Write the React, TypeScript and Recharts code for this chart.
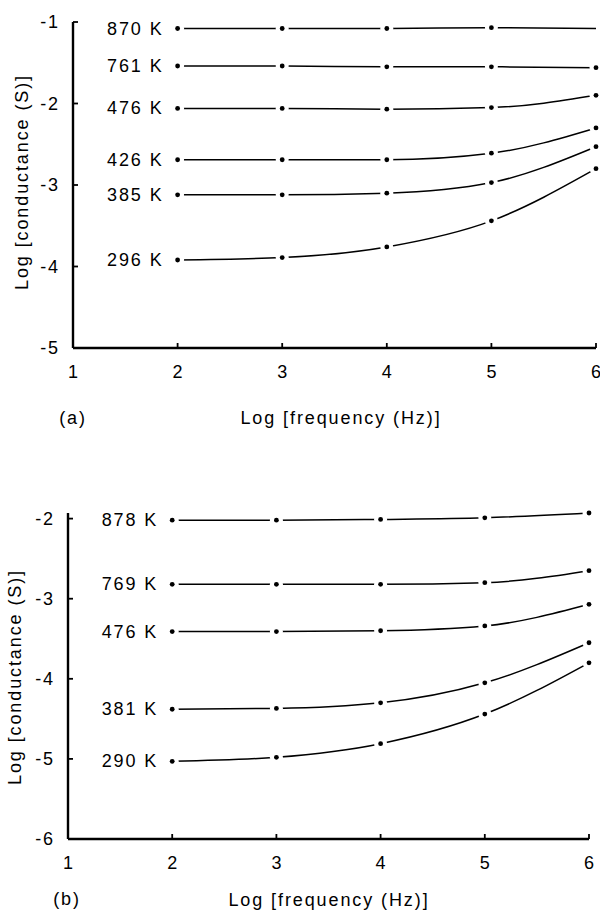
import { LineChart, Line, XAxis, YAxis, LabelList } from 'recharts';

// log frequency (Hz) at which each curve was measured
const FREQ = [2, 3, 4, 5, 6];

// panel (a)
const TEMPS_A = ['870 K', '761 K', '476 K', '426 K', '385 K', '296 K'];
const A_870 = [-1.08, -1.08, -1.08, -1.07, -1.08];
const A_761 = [-1.54, -1.54, -1.55, -1.55, -1.56];
const A_476 = [-2.06, -2.06, -2.07, -2.05, -1.9];
const A_426 = [-2.69, -2.69, -2.69, -2.61, -2.3];
const A_385 = [-3.12, -3.12, -3.1, -2.97, -2.53];
const A_296 = [-3.92, -3.89, -3.76, -3.44, -2.8];
const Y_TICKS_A = [-5, -4, -3, -2, -1];

// panel (b)
const TEMPS_B = ['878 K', '769 K', '476 K', '381 K', '290 K'];
const B_878 = [-2.02, -2.02, -2.01, -1.99, -1.93];
const B_769 = [-2.82, -2.82, -2.82, -2.8, -2.65];
const B_476 = [-3.41, -3.41, -3.4, -3.34, -3.07];
const B_381 = [-4.38, -4.37, -4.3, -4.05, -3.55];
const B_290 = [-5.03, -4.98, -4.81, -4.44, -3.8];
const Y_TICKS_B = [-6, -5, -4, -3, -2];

const X_TICKS = [1, 2, 3, 4, 5, 6];

const FONT = '"Liberation Sans", Arial, sans-serif';
const FS = 18;
const LS = 1.9;

function buildRows(series: number[][]) {
  return FREQ.map((f, i) => {
    const row: Record<string, number> = { f };
    series.forEach((s, k) => {
      row['s' + k] = s[i];
    });
    return row;
  });
}

const XTick = (props: any) => {
  const { x, y, payload } = props;
  return (
    <g>
      <line x1={x} y1={y} x2={x} y2={y - 5} stroke="#000" strokeWidth={1.8} />
      <text x={x} y={y + 30} textAnchor="middle" fontSize={FS} fontFamily={FONT} fill="#000">
        {payload.value}
      </text>
    </g>
  );
};

const YTick = (props: any) => {
  const { x, y, payload } = props;
  return (
    <g>
      <line x1={x} y1={y} x2={x + 5} y2={y} stroke="#000" strokeWidth={1.8} />
      <text x={x - 13} y={y + 6} textAnchor="end" fontSize={FS} fontFamily={FONT} letterSpacing={LS} fill="#000">
        {payload.value}
      </text>
    </g>
  );
};

function makeDot(hideLast: boolean) {
  return (props: any) => {
    const { cx, cy, index } = props;
    if (hideLast && index === FREQ.length - 1) return <g key={'d' + index} />;
    return (
      <g key={'d' + index}>
        <circle cx={cx} cy={cy} r={6.5} fill="#fff" />
        <circle cx={cx} cy={cy} r={2.4} fill="#000" />
      </g>
    );
  };
}

function nameLabel(name: string) {
  return (props: any) => {
    const { x, y, index } = props;
    if (index !== 0) return null;
    return (
      <text x={x - 14} y={y + 6} textAnchor="end" fontSize={FS} fontFamily={FONT} letterSpacing={LS} fill="#000">
        {name}
      </text>
    );
  };
}

interface PanelProps {
  series: number[][];
  names: string[];
  yTicks: number[];
  margin: { top: number; right: number; bottom: number; left: number };
  height: number;
  hideLast?: number;
}

function Panel({ series, names, yTicks, margin, height, hideLast }: PanelProps) {
  const rows = buildRows(series);
  return (
    <LineChart width={600} height={height} data={rows} margin={margin}>
      <XAxis
        dataKey="f"
        type="number"
        domain={[1, 6]}
        ticks={X_TICKS}
        tickSize={0}
        tickMargin={0}
        tickLine={false}
        axisLine={{ stroke: '#000', strokeWidth: 2.4 }}
        tick={<XTick />}
        height={30}
      />
      <YAxis
        type="number"
        domain={[yTicks[0], yTicks[yTicks.length - 1]]}
        ticks={yTicks}
        tickSize={0}
        tickMargin={0}
        tickLine={false}
        axisLine={{ stroke: '#000', strokeWidth: 2.4 }}
        tick={<YTick />}
        width={40}
      />
      {series.map((_, k) => (
        <Line
          key={k}
          dataKey={'s' + k}
          type="monotone"
          stroke="#000"
          strokeWidth={1.5}
          dot={makeDot(hideLast === k)}
          activeDot={false}
          isAnimationActive={false}
        >
          <LabelList dataKey={'s' + k} content={nameLabel(names[k])} />
        </Line>
      ))}
    </LineChart>
  );
}

const textStyle = {
  position: 'absolute' as const,
  fontFamily: FONT,
  fontSize: FS,
  letterSpacing: LS,
  whiteSpace: 'nowrap' as const,
  color: '#000',
  lineHeight: 1,
};

function Title({ x, y, text, rotate }: { x: number; y: number; text: string; rotate?: boolean }) {
  return (
    <div
      style={{
        ...textStyle,
        left: x,
        top: y,
        transform: `translate(-50%, -50%)${rotate ? ' rotate(-90deg)' : ''}`,
      }}
    >
      {text}
    </div>
  );
}

export default function App() {
  return (
    <div style={{ position: 'absolute', left: 0, top: 0, width: 600, height: 916, background: '#fff', overflow: 'hidden' }}>
      <div style={{ position: 'absolute', left: 0, top: 0 }}>
        <Panel
          series={[A_870, A_761, A_476, A_426, A_385, A_296]}
          names={TEMPS_A}
          yTicks={Y_TICKS_A}
          height={400}
          margin={{ top: 22, right: 4, bottom: 22, left: 33 }}
          hideLast={0}
        />
      </div>
      <Title x={22} y={182} text="Log [conductance (S)]" rotate />
      <Title x={341} y={418} text="Log [frequency (Hz)]" />
      <Title x={73} y={418} text="(a)" />

      <div style={{ position: 'absolute', left: 0, top: 470 }}>
        <Panel
          series={[B_878, B_769, B_476, B_381, B_290]}
          names={TEMPS_B}
          yTicks={Y_TICKS_B}
          height={440}
          margin={{ top: 43, right: 11, bottom: 41, left: 28 }}
        />
      </div>
      <Title x={15} y={677} text="Log [conductance (S)]" rotate />
      <Title x={329} y={900} text="Log [frequency (Hz)]" />
      <Title x={67} y={899} text="(b)" />
    </div>
  );
}
